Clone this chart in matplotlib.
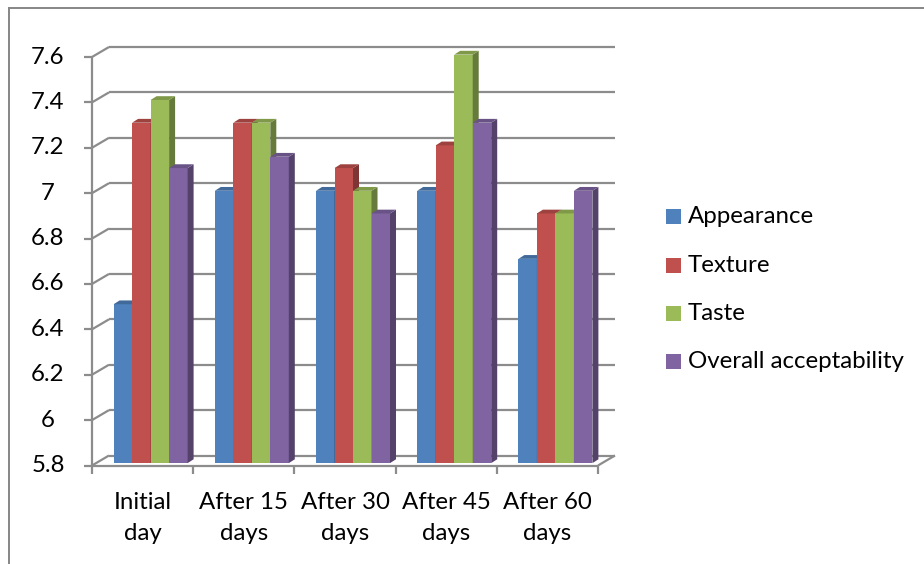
import matplotlib
matplotlib.use("Agg")
import matplotlib.pyplot as plt
from matplotlib.patches import Polygon, Rectangle
from matplotlib.lines import Line2D
import matplotlib.colors as mcolors

# ---- data ----
categories = ["Initial\nday", "After 15\ndays", "After 30\ndays", "After 45\ndays", "After 60\ndays"]
series_names = ["Appearance", "Texture", "Taste", "Overall acceptability"]
appearance = [6.5, 7.0, 7.0, 7.0, 6.7]
texture = [7.3, 7.3, 7.1, 7.2, 6.9]
taste = [7.4, 7.3, 7.0, 7.6, 6.9]
overall = [7.1, 7.15, 6.9, 7.3, 7.0]
y_ticks = [5.8, 6.0, 6.2, 6.4, 6.6, 6.8, 7.0, 7.2, 7.4, 7.6]
y_tick_labels = ["5.8", "6", "6.2", "6.4", "6.6", "6.8", "7", "7.2", "7.4", "7.6"]

series_values = [appearance, texture, taste, overall]
colors = ["#4F81BD", "#C0504D", "#9BBB59", "#8064A2"]

FONT = "Lato"
FS = 17.3
GRID = "#8C8C8C"

W, H = 924, 564
fig = plt.figure(figsize=(W / 100, H / 100), dpi=100)

# plot area (front plane) in pixels
x0, x1 = 92, 598
y_bot, y_top = 465.5, 57
ax = fig.add_axes([x0 / W, (H - y_bot) / H, (x1 - x0) / W, (y_bot - y_top) / H])
ymin, ymax = y_ticks[0], y_ticks[-1]
n = len(categories)
ax.set_xlim(0, n)
ax.set_ylim(ymin, ymax)
ax.axis("off")

ppx = (x1 - x0) / n
ppy = (y_bot - y_top) / (ymax - ymin)

# 3D offsets (pixels -> data units)
BX, BY = 17 / ppx, 10 / ppy      # back wall
FX, FY = 4 / ppx, 2.4 / ppy      # bar front faces
DX, DY = 6 / ppx, 3.8 / ppy      # bar depth

line_kw = dict(color=GRID, lw=1.6, clip_on=False, solid_capstyle="butt", zorder=1)

# walls and gridlines
for t in y_ticks:
    ax.plot([-8 / ppx, 0], [t, t], **line_kw)
    ax.plot([0, BX], [t, t + BY], **line_kw)
    ax.plot([BX, n + BX], [t + BY, t + BY], **line_kw)
ax.plot([0, 0], [ymin, ymax], **line_kw)
ax.plot([0, n], [ymin, ymin], **line_kw)
ax.plot([n, n + BX], [ymin, ymin + BY], **line_kw)
for i in range(n + 1):
    ax.plot([i, i], [ymin, ymin - 8 / ppy], **line_kw)

# bars
group_start = 17.6 / ppx
bar_w = 18.5 / ppx


def shade(c, f):
    r, g, b = mcolors.to_rgb(c)
    return (r * f, g * f, b * f)


for i in range(n):
    for j, vals in enumerate(series_values):
        v = vals[i]
        xl = i + group_start + j * bar_w + FX
        xr = xl + bar_w
        yb = ymin + FY
        yt = v + FY
        ax.add_patch(Rectangle((xl, yb), bar_w, yt - yb, facecolor=colors[j],
                               edgecolor="none", zorder=3, clip_on=False))
        ax.add_patch(Polygon([(xr, yb), (xr + DX, yb + DY), (xr + DX, yt + DY), (xr, yt)],
                             closed=True, facecolor=shade(colors[j], 0.66),
                             edgecolor="none", zorder=3, clip_on=False))
        ax.add_patch(Polygon([(xl, yt), (xr, yt), (xr + DX, yt + DY), (xl + DX, yt + DY)],
                             closed=True, facecolor=shade(colors[j], 0.82),
                             edgecolor="none", zorder=3, clip_on=False))

# y tick labels
for t, lab in zip(y_ticks, y_tick_labels):
    ypx = y_bot - (t - ymin) * ppy
    fig.text(48 / W, 1 - ypx / H, lab, ha="center", va="center",
             fontsize=FS, family=FONT, color="black")

# category labels
for i, lab in enumerate(categories):
    xpx = x0 + (i + 0.5) * ppx
    fig.text(xpx / W, 1 - 518 / H, lab, ha="center", va="center",
             fontsize=FS, family=FONT, color="black", linespacing=1.62)

# legend
leg_y = [216.5, 265, 313.3, 361.7]
for name, c, ly in zip(series_names, colors, leg_y):
    fig.patches.append(Rectangle((666 / W, 1 - (ly + 7.5) / H), 15 / W, 15 / H,
                                 transform=fig.transFigure, facecolor=c,
                                 edgecolor="none"))
    fig.text(688 / W, 1 - ly / H, name, ha="left", va="center",
             fontsize=FS, family=FONT, color="black")

# chart border
fig.add_artist(Line2D([8.5 / W, 1], [1 - 8 / H, 1 - 8 / H], transform=fig.transFigure,
                      color="#868686", lw=1.4))
fig.add_artist(Line2D([8.5 / W, 8.5 / W], [0, 1 - 8 / H], transform=fig.transFigure,
                      color="#868686", lw=1.4))

fig.savefig("out.png", dpi=100, facecolor="white")
